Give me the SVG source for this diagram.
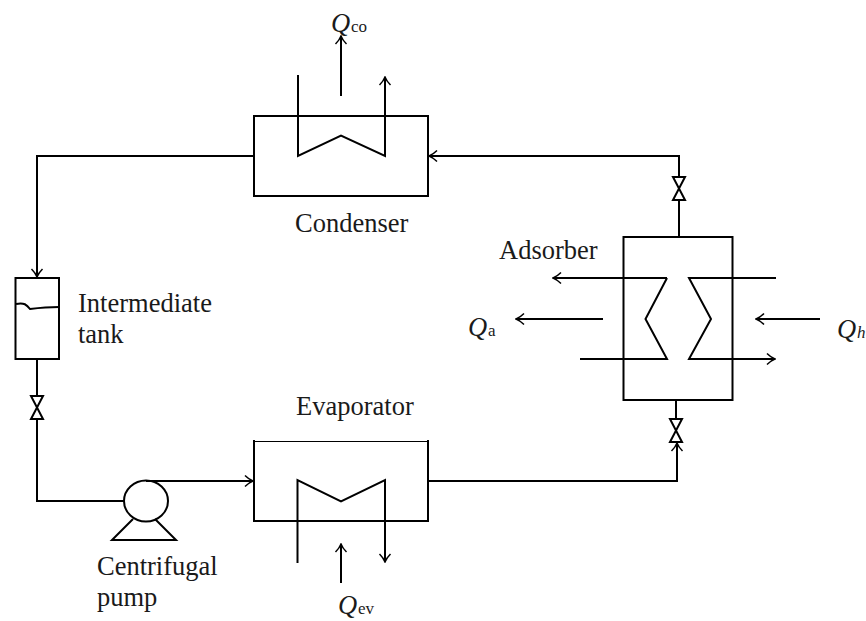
<svg xmlns="http://www.w3.org/2000/svg" width="866" height="621" viewBox="0 0 866 621">
<defs>
<marker id="a" markerUnits="userSpaceOnUse" markerWidth="12" markerHeight="14" refX="11" refY="7" orient="auto"><path d="M3 1.500Q7 5.500 11 7Q7 8.500 3 12.500" fill="none" stroke="#000" stroke-width="1.500"/></marker>
</defs>
<style>
.l{fill:none;stroke:#000;stroke-width:2}
.t{font-family:"Liberation Serif","Times New Roman",serif;font-size:26.500px;fill:#1a1a1a}
.q{font-style:italic;font-size:26.500px}
.s{font-size:17px}
</style>
<rect width="866" height="621" fill="#fff"/>
<g id="connectors" class="l">
<path d="M254 156H37V277" marker-end="url(#a)"/>
<path d="M37 359V396M37 419V501H124"/>
<path d="M146 481H253" marker-end="url(#a)"/>
<path d="M428 481H677V443" marker-end="url(#a)"/>
<path d="M676 400V419"/>
<path d="M679 237V200M679 177V156H429" marker-end="url(#a)"/>
<path d="M341 96V36" marker-end="url(#a)"/>
<path d="M341 583V544" marker-end="url(#a)"/>
<path d="M603 319H516" marker-end="url(#a)"/>
<path d="M820 319H756" marker-end="url(#a)"/>
</g>
<g id="condenser" class="l">
<rect x="254" y="116" width="174" height="80"/>
<path d="M298 75V156L341 135.500L385 156V77" marker-end="url(#a)"/>
</g>
<g id="evaporator" class="l">
<path d="M254 440V521H428V440"/>
<path d="M254 441.500H428" stroke-width="1"/>
<path d="M297.500 563V480L341 501.500L385 480V562" marker-end="url(#a)"/>
</g>
<g id="adsorber" class="l">
<rect x="623.500" y="237" width="109" height="163"/>
<path d="M667 278H553" marker-end="url(#a)"/>
<path d="M667 278L645.500 319L667 359H580"/>
<path d="M776 278H689L711 319L689 359H775" marker-end="url(#a)"/>
</g>
<g id="tank" class="l">
<rect x="15.500" y="278" width="43.500" height="81"/>
<path d="M16 304C24 302 27 305 30 309C38 308 48 307 59 307"/>
</g>
<g id="pump" class="l">
<ellipse cx="146" cy="501" rx="22" ry="20.500"/>
<path d="M133 519L112 540H176L155 519"/>
</g>
<g id="valve-tank" class="l"><path d="M31 396H43L31 419H43Z"/></g>
<g id="valve-top" class="l"><path d="M673 177H685L673 200H685Z"/></g>
<g id="valve-bottom" class="l"><path d="M670 419H682L670 442H682Z"/></g>
<g id="labels" class="t">
<text x="295" y="232">Condenser</text>
<text x="296" y="415">Evaporator</text>
<text x="499" y="259">Adsorber</text>
<text x="78" y="312">Intermediate</text>
<text x="78" y="343">tank</text>
<text x="97" y="575">Centrifugal</text>
<text x="97" y="606">pump</text>
<text x="331" y="32" class="q">Q</text><text x="351" y="32" class="s">co</text>
<text x="468" y="336" class="q">Q</text><text x="488" y="336" class="s">a</text>
<text x="837" y="338" class="q">Q</text><text x="857" y="338" class="s" font-style="italic">h</text>
<text x="338" y="614" class="q">Q</text><text x="358" y="614" class="s">ev</text>
</g>
</svg>
